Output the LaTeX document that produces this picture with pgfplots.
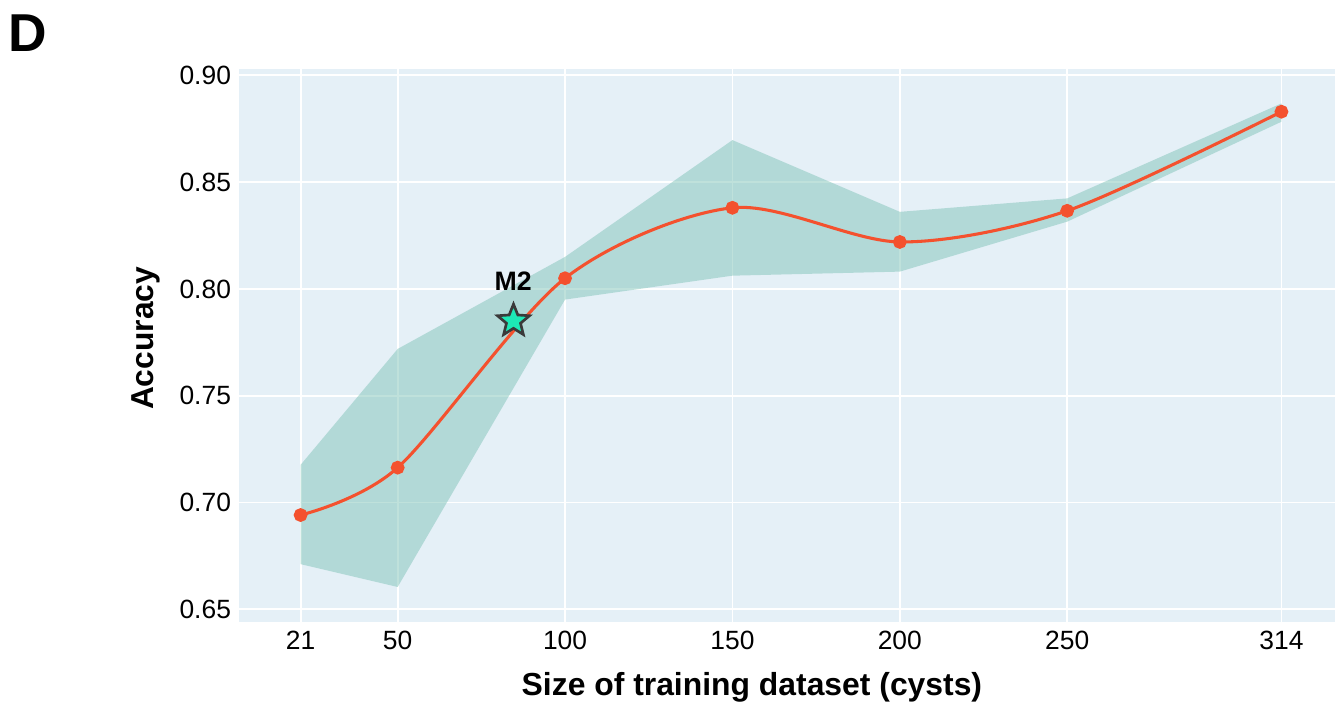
\documentclass[border=0pt]{standalone}
\usepackage{pgfplots}
\pgfplotsset{compat=1.18}
\usepackage{fontspec}
\setmainfont{Liberation Sans}
\definecolor{bgc}{RGB}{229,240,247}
\definecolor{bandc}{RGB}{129,196,185}
\definecolor{linec}{RGB}{244,81,46}
\definecolor{starc}{RGB}{29,233,182}
\definecolor{stare}{RGB}{58,58,58}
\pgfdeclareplotmark{fstar}{%
  \pgfpathmoveto{\pgfpointpolar{90}{\pgfplotmarksize}}%
  \pgfpathlineto{\pgfpointpolar{126}{0.44\pgfplotmarksize}}%
  \pgfpathlineto{\pgfpointpolar{162}{\pgfplotmarksize}}%
  \pgfpathlineto{\pgfpointpolar{198}{0.44\pgfplotmarksize}}%
  \pgfpathlineto{\pgfpointpolar{234}{\pgfplotmarksize}}%
  \pgfpathlineto{\pgfpointpolar{270}{0.44\pgfplotmarksize}}%
  \pgfpathlineto{\pgfpointpolar{306}{\pgfplotmarksize}}%
  \pgfpathlineto{\pgfpointpolar{342}{0.44\pgfplotmarksize}}%
  \pgfpathlineto{\pgfpointpolar{18}{\pgfplotmarksize}}%
  \pgfpathlineto{\pgfpointpolar{54}{0.44\pgfplotmarksize}}%
  \pgfpathclose
  \pgfusepathqfillstroke
}
\begin{document}
\begin{tikzpicture}
\useasboundingbox (-179.25pt,-61.5pt) rectangle (822pt,466.5pt);
\begin{axis}[
  at={(0,0)}, anchor=south west,
  scale only axis, width=822pt, height=414.75pt,
  xmin=2.6, xmax=330, ymin=0.644, ymax=0.903,
  axis background/.style={fill=bgc},
  axis line style={draw=none},
  major tick length=0pt,
  grid=major, grid style={white, line width=1.4pt},
  xtick={21,50,100,150,200,250,314},
  ytick={0.65,0.70,0.75,0.80,0.85,0.90},
  /pgf/number format/assume math mode=true,
  tick label style={font=\fontsize{19.8}{23}\selectfont},
  xticklabel style={yshift=-3.2pt},
  yticklabel style={xshift=-2.5pt, /pgf/number format/fixed, /pgf/number format/fixed zerofill, /pgf/number format/precision=2},
  every axis x label/.style={at={(axis description cs:0.468,-0.132)}, anchor=base, font=\bfseries\fontsize{23.9}{28}\selectfont},
  every axis y label/.style={at={(axis description cs:-0.0776,0.5127)}, rotate=90, anchor=base, font=\bfseries\fontsize{23.8}{28}\selectfont},
  xlabel={Size of training dataset (cysts)},
  ylabel={Accuracy},
]
\addplot[draw=none, fill=bandc, fill opacity=0.5] coordinates {
  (21,0.7176)(50,0.7719)(100,0.815)(150,0.8697)(200,0.8361)(250,0.8424)(314,0.8869)
  (314,0.8783)(250,0.8315)(200,0.8081)(150,0.8062)(100,0.795)(50,0.6604)(21,0.6711)
} -- cycle;
\addplot[smooth, color=linec, line width=2.3pt, mark=*, mark size=4pt, mark options={fill=linec, draw=none}] coordinates {
  (21,0.6941)(50,0.7163)(100,0.805)(150,0.838)(200,0.822)(250,0.8366)(314,0.883)
};
\addplot[only marks, mark=fstar, mark size=12.6pt, mark options={fill=starc, draw=stare, line width=2pt, line join=miter}] coordinates {(84.6,0.785)};
\node[font=\bfseries\fontsize{20}{24}\selectfont] at (axis cs:84.5,0.8037) {M2};
\end{axis}
\node[anchor=base west, inner sep=0pt, font=\bfseries\fontsize{40}{48}\selectfont] at (-173pt,427.5pt) {D};
\end{tikzpicture}
\end{document}
